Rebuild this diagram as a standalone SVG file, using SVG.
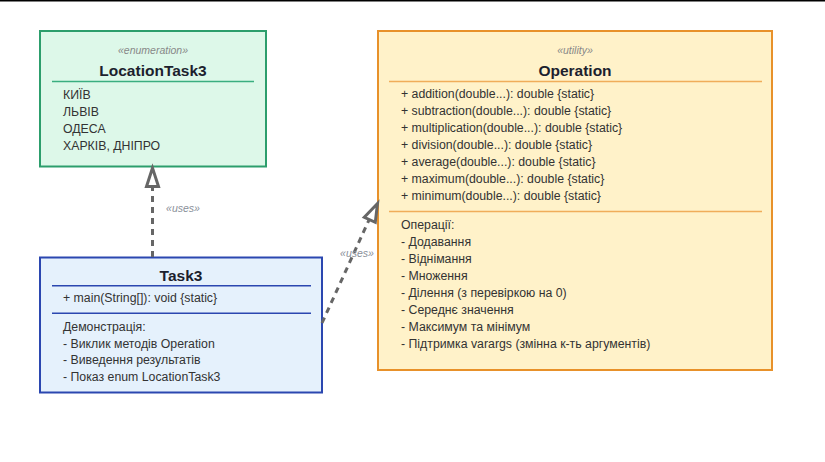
<svg xmlns="http://www.w3.org/2000/svg" width="825" height="462" viewBox="0 0 825 462">
<defs>
<style>
text{font-family:"Liberation Sans",Arial,sans-serif;}
.st{font-size:10.5px;font-style:italic;fill:#888;text-anchor:middle;}
.ti{font-size:15.5px;font-weight:bold;fill:#1c1f2e;text-anchor:middle;}
.m{font-size:12.3px;fill:#333;}
.lbl{font-size:10.5px;font-style:italic;fill:#8a8f99;text-anchor:middle;}
.edge{stroke:#666;stroke-width:3;fill:none;stroke-dasharray:6 5;}
.head{stroke:#666;stroke-width:3;fill:#fff;stroke-linejoin:miter;}
</style>
</defs>
<rect x="0" y="0" width="825" height="462" fill="#fff"/>
<rect x="0" y="0" width="825" height="1.5" fill="#000"/>

<g id="LocationTask3">
<rect x="40" y="31" width="226" height="135.5" fill="#ddf8e9" stroke="#2c9e6c" stroke-width="2"/>
<text class="st" x="153" y="53.5">«enumeration»</text>
<text class="ti" x="153" y="76">LocationTask3</text>
<line x1="52" y1="81.5" x2="254" y2="81.5" stroke="#3aae80" stroke-width="1.5"/>
<text class="m" x="63" y="99.3">КИЇВ</text>
<text class="m" x="63" y="116.2">ЛЬВІВ</text>
<text class="m" x="63" y="133.1">ОДЕСА</text>
<text class="m" x="63" y="150">ХАРКІВ, ДНІПРО</text>
</g>

<g id="Operation">
<rect x="378" y="31" width="394" height="339" fill="#fff2c9" stroke="#e8912a" stroke-width="2"/>
<text class="st" x="575" y="53.5">«utility»</text>
<text class="ti" x="575" y="76">Operation</text>
<line x1="389" y1="81.5" x2="762" y2="81.5" stroke="#f0ad5a" stroke-width="1.5"/>
<text class="m" x="401" y="98.4">+ addition(double...): double {static}</text>
<text class="m" x="401" y="115.3">+ subtraction(double...): double {static}</text>
<text class="m" x="401" y="132.2">+ multiplication(double...): double {static}</text>
<text class="m" x="401" y="149.1">+ division(double...): double {static}</text>
<text class="m" x="401" y="166">+ average(double...): double {static}</text>
<text class="m" x="401" y="182.9">+ maximum(double...): double {static}</text>
<text class="m" x="401" y="199.8">+ minimum(double...): double {static}</text>
<line x1="389" y1="211.5" x2="762" y2="211.5" stroke="#f0ad5a" stroke-width="1.5"/>
<text class="m" x="401" y="229.2">Операції:</text>
<text class="m" x="401" y="246.1">- Додавання</text>
<text class="m" x="401" y="263">- Віднімання</text>
<text class="m" x="401" y="279.9">- Множення</text>
<text class="m" x="401" y="296.8">- Ділення (з перевіркою на 0)</text>
<text class="m" x="401" y="313.7">- Середнє значення</text>
<text class="m" x="401" y="330.6">- Максимум та мінімум</text>
<text class="m" x="401" y="347.5">- Підтримка varargs (змінна к-ть аргументів)</text>
</g>

<g id="Task3">
<rect x="40" y="257.5" width="282" height="135" fill="#e5f1fc" stroke="#2b47b0" stroke-width="2"/>
<text class="ti" x="181" y="280.5">Task3</text>
<line x1="52" y1="285.7" x2="311" y2="285.7" stroke="#2b47b0" stroke-width="1.5"/>
<text class="m" x="63" y="302">+ main(String[]): void {static}</text>
<line x1="52" y1="313.3" x2="311" y2="313.3" stroke="#2b47b0" stroke-width="1.5"/>
<text class="m" x="63" y="331">Демонстрація:</text>
<text class="m" x="63" y="347.7">- Виклик методів Operation</text>
<text class="m" x="63" y="364.4">- Виведення результатів</text>
<text class="m" x="63" y="381.1">- Показ enum LocationTask3</text>
</g>

<g id="connectors">
<line class="edge" x1="152.5" y1="257" x2="152.5" y2="188"/>
<polygon class="head" points="152.5,168 146.5,186.5 158.5,186.5"/>
<text class="lbl" x="183" y="212">«uses»</text>
<line class="edge" x1="322" y1="323" x2="369" y2="220"/>
<polygon class="head" points="377.5,203.5 364.3,217.3 375.3,222.3"/>
<text class="lbl" x="357" y="257">«uses»</text>
</g>
</svg>
